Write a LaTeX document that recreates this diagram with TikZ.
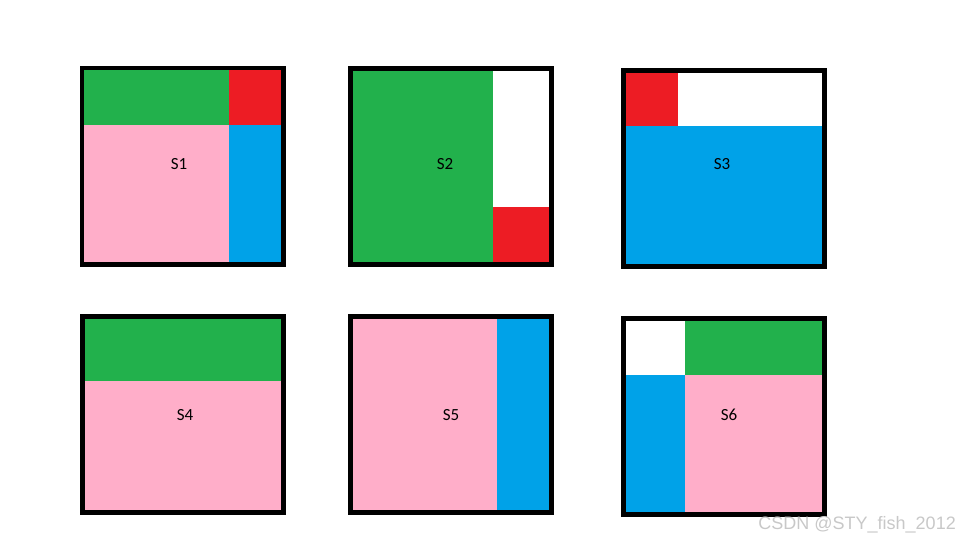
\documentclass[tikz,border=0pt]{standalone}
\usepackage{fontspec}
\setmainfont{Carlito}
\newfontfamily\markfont{Liberation Sans}
\usepackage{xcolor}
\definecolor{pgreen}{RGB}{34,177,76}
\definecolor{pred}{RGB}{237,28,36}
\definecolor{pblue}{RGB}{0,162,232}
\definecolor{ppink}{RGB}{255,174,201}
\definecolor{pmark}{RGB}{200,200,200}
\usetikzlibrary{positioning}

\begin{document}
\begin{tikzpicture}[x=1pt,y=-1pt,
  frame/.style={draw=black,line width=4.5pt},
  lab/.style={font=\fontsize{17}{17}\selectfont,inner sep=0pt}]
\useasboundingbox (0,0) rectangle (960,540);
% S1
\fill[pgreen] (84,70) rectangle (229,125);
\fill[pred] (229,70) rectangle (281,125);
\fill[ppink] (84,125) rectangle (229,262);
\fill[pblue] (229,125) rectangle (281,262);
\draw[frame] (82,68) rectangle (283.5,264.5);
\node[lab] (s1) at (179,164) {S1};
% S2
\fill[pgreen] (353,71) rectangle (493,262);
\fill[pred] (493,207) rectangle (549,262);
\draw[frame] (350.5,68.5) rectangle (551.5,264.5);
\node[lab] (s2) at (445,164) {S2};
% S3
\fill[pred] (626,73) rectangle (678,126);
\fill[pblue] (626,126) rectangle (822,264);
\draw[frame] (623.5,70.5) rectangle (824.5,266.5);
\node[lab] (s3) at (722,164) {S3};
% S4
\fill[pgreen] (85,319) rectangle (281,381);
\fill[ppink] (85,381) rectangle (281,510);
\draw[frame] (82.5,316.5) rectangle (283.5,512.5);
\node[lab] (s4) at (185,415) {S4};
% S5
\fill[ppink] (353,319) rectangle (497,510);
\fill[pblue] (497,319) rectangle (549,510);
\draw[frame] (350.5,316.5) rectangle (551.5,512.5);
\node[lab] (s5) at (451,415) {S5};
% S6
\fill[pgreen] (685,321) rectangle (822,375);
\fill[pblue] (626,375) rectangle (685,512);
\fill[ppink] (685,375) rectangle (822,512);
\draw[frame] (623.5,318.5) rectangle (824.5,514.5);
\node[lab] (s6) at (729,415) {S6};
% watermark
\node[anchor=base east,inner sep=0pt,text=pmark,font=\markfont\fontsize{18}{18}\selectfont] (mark) at (956,529) {CSDN @STY\_fish\_2012};
\end{tikzpicture}
\end{document}
